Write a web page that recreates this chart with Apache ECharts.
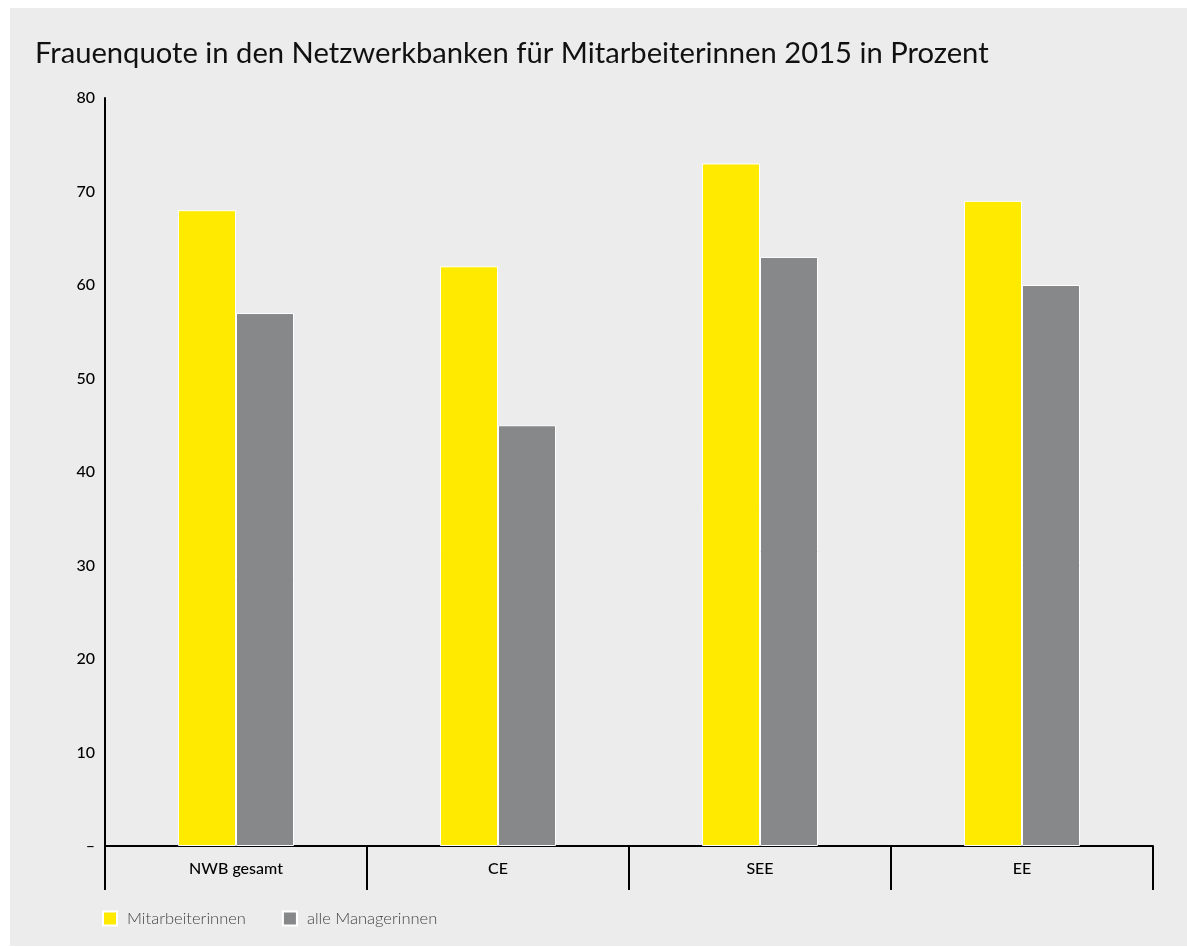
<!DOCTYPE html>
<html>
<head>
<meta charset="utf-8">
<script src="https://cdn.jsdelivr.net/npm/echarts@6/dist/echarts.min.js"></script>
<style>
html,body{margin:0;padding:0;background:#ffffff;width:1187px;height:947px;overflow:hidden;}
#panel{position:absolute;left:10px;top:8px;width:1177px;height:938px;background:#ebeceb;}
#chart{width:1177px;height:938px;}
</style>
</head>
<body>
<div id="panel"><div id="chart"></div></div>
<script>
const title = 'Frauenquote in den Netzwerkbanken für Mitarbeiterinnen 2015 in Prozent';
const categories = ['NWB gesamt', 'CE', 'SEE', 'EE'];
const seriesNames = ['Mitarbeiterinnen', 'alle Managerinnen'];
const mitarbeiterinnen = [68, 62, 73, 69];
const managerinnen = [57, 45, 63, 60];
const yTicks = {0: '–', 10: '10', 20: '20', 30: '30', 40: '40', 50: '50', 60: '60', 70: '70', 80: '80'};
const colors = ['#ffea00', '#878889'];

const chart = echarts.init(document.getElementById('chart'), null, {renderer: 'canvas'});
const font = 'Lato, "Noto Sans", sans-serif';
chart.setOption({
  animation: false,
  backgroundColor: '#ebeceb',
  title: {
    text: title, left: 20, top: 26,
    textStyle: {fontFamily: font, fontSize: 29.2, fontWeight: 'normal', color: '#111'}
  },
  legend: {
    left: 87, bottom: 14, itemWidth: 14, itemHeight: 14, itemGap: 36,
    icon: 'rect',
    textStyle: {fontFamily: font, fontSize: 16.5, color: '#444', fontWeight: 300, padding: [0, 0, 0, 5]},
    data: seriesNames
  },
  grid: {left: 95, right: 34, top: 90, bottom: 100, containLabel: false},
  xAxis: {
    type: 'category', data: categories,
    axisLine: {lineStyle: {color: '#000', width: 2}},
    axisTick: {show: true, length: 44, lineStyle: {color: '#000', width: 2}, alignWithLabel: false},
    axisLabel: {fontFamily: font, fontSize: 16, color: '#000', margin: 15, fontWeight: 500}
  },
  yAxis: {
    type: 'value', min: 0, max: 80, interval: 10,
    axisLine: {show: true, lineStyle: {color: '#000', width: 2}},
    axisTick: {show: false},
    splitLine: {show: false},
    axisLabel: {fontFamily: font, fontSize: 16, color: '#000', margin: 10, fontWeight: 500,
      formatter: v => yTicks[v] !== undefined ? yTicks[v] : ''}
  },
  series: [
    {name: seriesNames[0], type: 'bar', data: mitarbeiterinnen, barWidth: 58, barGap: '0%',
      itemStyle: {color: colors[0], borderColor: '#ffffff', borderWidth: 1}},
    {name: seriesNames[1], type: 'bar', data: managerinnen, barWidth: 58, barGap: '0%',
      itemStyle: {color: colors[1], borderColor: '#ffffff', borderWidth: 1}}
  ]
});
</script>
</body>
</html>
